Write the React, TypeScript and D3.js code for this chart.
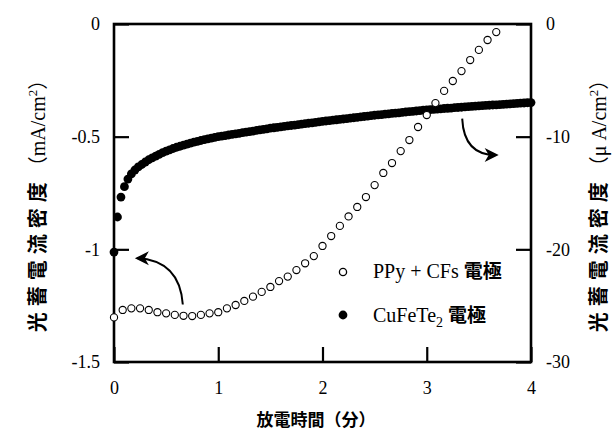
import React, { useEffect, useRef } from 'react'
import * as d3 from 'd3'

// tick values and labels
const timeTicks = [0, 1, 2, 3, 4]
const timeTickLabels = ['0', '1', '2', '3', '4']
const leftTicks = [0, -0.5, -1, -1.5]
const leftTickLabels = ['0', '-0.5', '-1', '-1.5']
const rightTicks = [0, -10, -20, -30]
const rightTickLabels = ['0', '-10', '-20', '-30']

// PPy + CFs electrode, sampled every 5 s (1/12 min), mA/cm2 (left axis)
const ppyStepMin = 1 / 12
const ppyValues = [
  -1.302, -1.269, -1.262, -1.262, -1.269, -1.279, -1.284, -1.291, -1.295, -1.296,
  -1.291, -1.284, -1.279, -1.262, -1.247, -1.229, -1.21, -1.189, -1.167, -1.141,
  -1.121, -1.092, -1.062, -1.03, -0.985, -0.941, -0.896, -0.854, -0.812, -0.768,
  -0.715, -0.661, -0.617, -0.564, -0.515, -0.457, -0.404, -0.351, -0.297, -0.253,
  -0.209, -0.16, -0.115, -0.071, -0.036,
]

// CuFeTe2 electrode, sampled every 2 s (1/30 min), uA/cm2 (right axis)
const cuStepMin = 1 / 30
const cuValues = [
  -20.24, -17.13, -15.36, -14.44, -13.76, -13.31, -12.96, -12.69, -12.47, -12.25,
  -12.05, -11.88, -11.72, -11.57, -11.42, -11.29, -11.17, -11.05, -10.94, -10.85,
  -10.75, -10.66, -10.57, -10.49, -10.41, -10.34, -10.27, -10.2, -10.13, -10.07,
  -10.0, -9.95, -9.9, -9.85, -9.8, -9.75, -9.7, -9.65, -9.6, -9.55,
  -9.5, -9.45, -9.4, -9.35, -9.3, -9.25, -9.21, -9.17, -9.13, -9.09,
  -9.05, -9.01, -8.97, -8.93, -8.89, -8.85, -8.81, -8.77, -8.73, -8.69,
  -8.65, -8.61, -8.58, -8.54, -8.5, -8.47, -8.43, -8.39, -8.36, -8.32,
  -8.28, -8.25, -8.21, -8.17, -8.14, -8.1, -8.07, -8.04, -8.0, -7.97,
  -7.94, -7.91, -7.88, -7.84, -7.81, -7.78, -7.75, -7.72, -7.68, -7.65,
  -7.62, -7.6, -7.57, -7.55, -7.53, -7.5, -7.48, -7.46, -7.43, -7.41,
  -7.39, -7.36, -7.34, -7.32, -7.29, -7.27, -7.25, -7.23, -7.21, -7.19,
  -7.17, -7.15, -7.13, -7.11, -7.09, -7.07, -7.05, -7.03, -7.01, -6.99,
  -6.97,
]

const SERIF = '"Liberation Serif", "Times New Roman", serif'
const CJK = '"Noto Sans CJK JP", "Noto Sans CJK SC", sans-serif'

const App = () => {
  const svgRef = useRef<SVGSVGElement>(null)

  useEffect(() => {
    const width = 612
    const height = 430
    const margin = { top: 24, right: 81, bottom: 68, left: 114 }

    const svg = d3.select(svgRef.current)
    svg.selectAll('*').remove()
    svg.attr('width', width).attr('height', height)

    const x = d3.scaleLinear().domain([0, 4]).range([margin.left, width - margin.right])
    const yL = d3.scaleLinear().domain([0, -1.5]).range([margin.top, height - margin.bottom])
    const yR = d3.scaleLinear().domain([0, -30]).range([margin.top, height - margin.bottom])

    // axes with inward ticks
    const styleAxis = (g) => {
      g.select('.domain').remove()
      g.attr('font-family', SERIF).attr('font-size', 18)
      g.selectAll('line').attr('stroke', '#000').attr('stroke-width', 2.2)
      g.selectAll('text').attr('fill', '#000')
    }

    svg
      .append('g')
      .attr('transform', `translate(${margin.left},0)`)
      .call(
        d3
          .axisLeft(yL)
          .tickValues(leftTicks)
          .tickSizeInner(-15)
          .tickSizeOuter(0)
          .tickPadding(14)
          .tickFormat((d, i) => leftTickLabels[i])
      )
      .call(styleAxis)

    svg
      .append('g')
      .attr('transform', `translate(${width - margin.right},0)`)
      .call(
        d3
          .axisRight(yR)
          .tickValues(rightTicks)
          .tickSizeInner(-15)
          .tickSizeOuter(0)
          .tickPadding(15)
          .tickFormat((d, i) => rightTickLabels[i])
      )
      .call(styleAxis)

    svg
      .append('g')
      .attr('transform', `translate(0,${height - margin.bottom})`)
      .call(
        d3
          .axisBottom(x)
          .tickValues(timeTicks)
          .tickSizeInner(-15)
          .tickSizeOuter(0)
          .tickPadding(19)
          .tickFormat((d, i) => timeTickLabels[i])
      )
      .call(styleAxis)

    // frame
    svg
      .append('rect')
      .attr('x', x(0))
      .attr('y', yL(0))
      .attr('width', x(4) - x(0))
      .attr('height', yL(-1.5) - yL(0))
      .attr('fill', 'none')
      .attr('stroke', '#000')
      .attr('stroke-width', 2.6)

    // CuFeTe2 filled dots (right axis)
    svg
      .append('g')
      .selectAll('circle')
      .data(cuValues)
      .enter()
      .append('circle')
      .attr('cx', (d, i) => x(i * cuStepMin))
      .attr('cy', (d) => yR(d))
      .attr('r', 4.4)
      .attr('fill', '#000')

    // PPy + CFs open circles (left axis)
    svg
      .append('g')
      .selectAll('circle')
      .data(ppyValues)
      .enter()
      .append('circle')
      .attr('cx', (d, i) => x(i * ppyStepMin))
      .attr('cy', (d) => yL(d))
      .attr('r', 3.6)
      .attr('fill', '#fff')
      .attr('stroke', '#000')
      .attr('stroke-width', 1.1)

    // arrows pointing to the relevant axis
    const arrowHead = (tx, ty, dir) => {
      const s = dir
      return `M${tx},${ty} L${tx + s * 14},${ty - 7} L${tx + s * 10},${ty} L${tx + s * 14},${ty + 7} Z`
    }
    const a1 = [x(0.66), yL(-1.245), x(0.64), yL(-1.11), x(0.49), yL(-1.045), x(0.22), yL(-1.038)]
    svg
      .append('path')
      .attr('d', `M${a1[0]},${a1[1]} C${a1[2]},${a1[3]} ${a1[4]},${a1[5]} ${a1[6]},${a1[7]}`)
      .attr('fill', 'none')
      .attr('stroke', '#000')
      .attr('stroke-width', 2)
    svg.append('path').attr('d', arrowHead(x(0.2), yL(-1.04), 1)).attr('fill', '#000')

    const a2 = [x(3.34), yR(-8.4), x(3.35), yR(-10.3), x(3.43), yR(-11.63), x(3.66), yR(-11.63)]
    svg
      .append('path')
      .attr('d', `M${a2[0]},${a2[1]} C${a2[2]},${a2[3]} ${a2[4]},${a2[5]} ${a2[6]},${a2[7]}`)
      .attr('fill', 'none')
      .attr('stroke', '#000')
      .attr('stroke-width', 2)
    svg.append('path').attr('d', arrowHead(x(3.69), yR(-11.63), -1)).attr('fill', '#000')

    // legend
    const legend = svg.append('g')
    legend
      .append('circle')
      .attr('cx', 343)
      .attr('cy', 272)
      .attr('r', 3.6)
      .attr('fill', '#fff')
      .attr('stroke', '#000')
      .attr('stroke-width', 1.3)
    legend.append('circle').attr('cx', 343).attr('cy', 315).attr('r', 4.4).attr('fill', '#000')

    const t1 = legend
      .append('text')
      .attr('x', 373)
      .attr('y', 278)
      .attr('font-family', SERIF)
      .attr('font-size', 20)
    t1.append('tspan').text('PPy + CFs ')
    t1.append('tspan').attr('font-family', CJK).attr('font-weight', 700).attr('font-size', 19).text('電極')

    const t2 = legend
      .append('text')
      .attr('x', 373)
      .attr('y', 322)
      .attr('font-family', SERIF)
      .attr('font-size', 20)
    t2.append('tspan').text('CuFeTe')
    t2.append('tspan').attr('font-size', 14).attr('dy', 5).text('2')
    t2.append('tspan').attr('dy', -5).text(' ')
    t2.append('tspan').attr('font-family', CJK).attr('font-weight', 700).attr('font-size', 19).text('電極')

    // x axis title
    svg
      .append('text')
      .attr('x', 316)
      .attr('y', 426)
      .attr('text-anchor', 'middle')
      .attr('font-family', CJK)
      .attr('font-weight', 700)
      .attr('font-size', 17)
      .text('放電時間（分）')

    // y axis titles
    const yTitle = (cx, unit) => {
      const t = svg
        .append('text')
        .attr('transform', `translate(${cx},201) rotate(-90)`)
        .attr('text-anchor', 'middle')
        .attr('dy', '0.35em')
        .attr('font-size', 20)
      t.append('tspan').attr('font-family', CJK).attr('font-weight', 700).attr('letter-spacing', 6).text('光蓄電流密度')
      t.append('tspan').attr('font-family', CJK).text('（')
      t.append('tspan').attr('font-family', SERIF).text(unit)
      t.append('tspan').attr('font-family', SERIF).attr('font-size', 13).attr('dy', -8).text('2')
      t.append('tspan').attr('font-family', CJK).attr('dy', 8).text('）')
    }
    yTitle(38, 'mA/cm')
    yTitle(599, 'μ A/cm')
  }, [])

  return <svg ref={svgRef} style={{ position: 'absolute', left: 0, top: 0, background: '#fff' }}></svg>
}

export default App
